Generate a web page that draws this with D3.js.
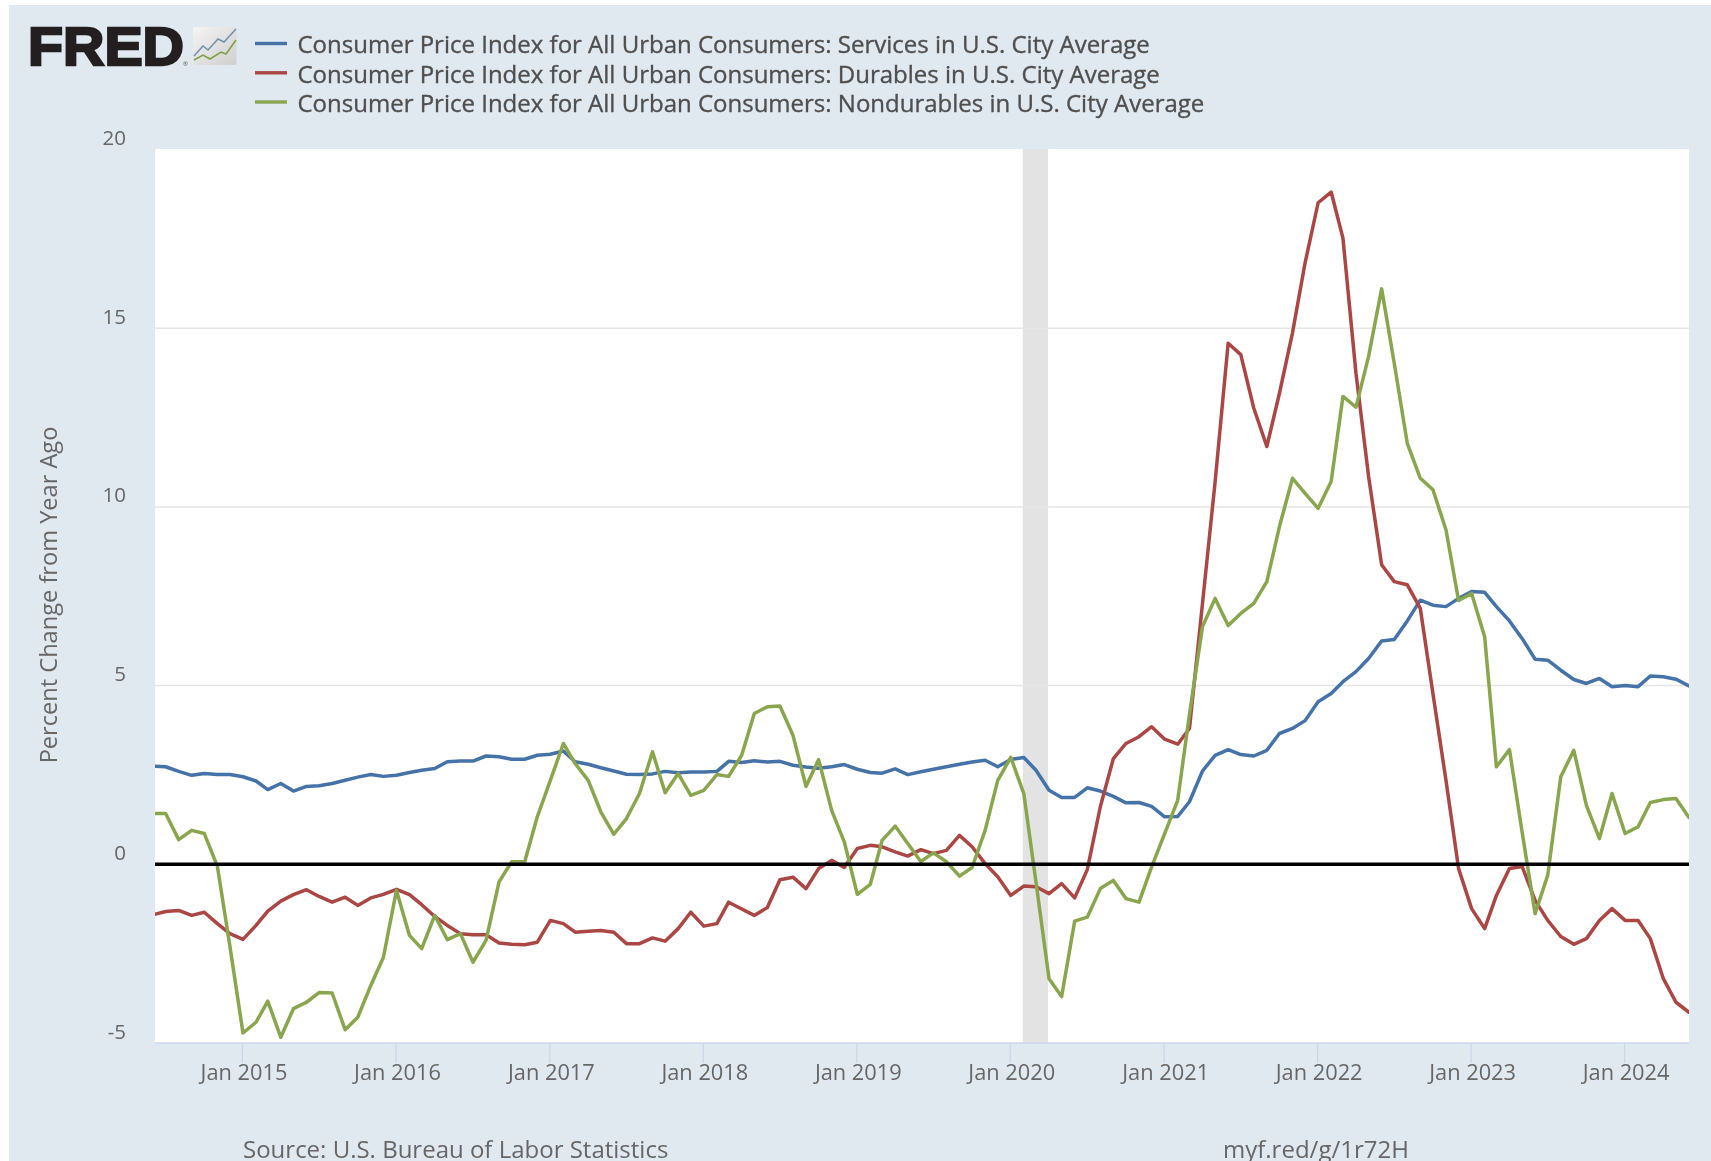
<!DOCTYPE html>
<html>
<head>
<meta charset="utf-8">
<script src="https://cdn.jsdelivr.net/npm/d3@7"></script>
<style>
html,body{margin:0;padding:0;background:#fff;overflow:hidden}
svg{display:block;filter:blur(0.55px)}
text{font-family:"Open Sans",sans-serif}
</style>
</head>
<body>
<svg id="chart" width="1711" height="1161"></svg>
<script>
// Monthly observations, Jun 2014 to Jun 2024
const firstMonth = "2014-06-01";
const lastMonth = "2024-06-01";
const seriesNames = [
  "Consumer Price Index for All Urban Consumers: Services in U.S. City Average",
  "Consumer Price Index for All Urban Consumers: Durables in U.S. City Average",
  "Consumer Price Index for All Urban Consumers: Nondurables in U.S. City Average"
];
const services = [
  2.75,2.73,2.60,2.49,2.54,2.51,2.51,2.45,2.33,2.09,2.26,2.05,2.18,2.20,2.26,2.35,2.44,2.51,2.46,2.49,
  2.57,2.63,2.68,2.87,2.89,2.89,3.03,3.01,2.94,2.94,3.05,3.08,3.17,2.87,2.80,2.70,2.61,2.52,2.51,2.53,
  2.60,2.56,2.58,2.58,2.60,2.88,2.85,2.90,2.86,2.88,2.77,2.72,2.69,2.73,2.79,2.66,2.57,2.55,2.67,2.51,
  2.59,2.66,2.73,2.80,2.86,2.91,2.73,2.93,2.99,2.63,2.07,1.87,1.87,2.14,2.05,1.90,1.72,1.73,1.62,1.33,
  1.34,1.75,2.61,3.05,3.21,3.07,3.03,3.19,3.66,3.80,4.02,4.55,4.78,5.11,5.39,5.76,6.25,6.29,6.81,7.39,
  7.25,7.21,7.44,7.63,7.61,7.21,6.81,6.32,5.74,5.71,5.43,5.17,5.06,5.20,4.97,5.00,4.97,5.27,5.25,5.18,
  4.99
];
const durables = [
  -1.41,-1.32,-1.29,-1.43,-1.34,-1.66,-1.94,-2.10,-1.71,-1.31,-1.03,-0.85,-0.71,-0.90,-1.06,-0.92,-1.15,-0.94,-0.84,-0.70,
  -0.85,-1.13,-1.46,-1.71,-1.94,-1.97,-1.97,-2.20,-2.24,-2.25,-2.18,-1.57,-1.66,-1.90,-1.87,-1.85,-1.90,-2.22,-2.22,-2.06,
  -2.15,-1.80,-1.34,-1.73,-1.66,-1.06,-1.25,-1.43,-1.21,-0.43,-0.36,-0.68,-0.12,0.11,-0.09,0.44,0.53,0.49,0.35,0.23,
  0.41,0.30,0.39,0.81,0.49,0.02,-0.35,-0.87,-0.61,-0.63,-0.82,-0.54,-0.94,-0.15,1.61,2.96,3.38,3.57,3.85,3.50,
  3.36,3.80,7.30,10.70,14.58,14.26,12.76,11.69,13.18,14.87,16.83,18.51,18.81,17.52,13.74,10.85,8.38,7.91,7.82,7.16,
  4.78,2.35,-0.12,-1.24,-1.80,-0.87,-0.12,-0.06,-1.01,-1.57,-2.02,-2.24,-2.08,-1.57,-1.24,-1.57,-1.57,-2.08,-3.20,-3.86,
  -4.14
];
const nondurables = [
  1.42,1.42,0.69,0.95,0.86,-0.05,-2.30,-4.72,-4.42,-3.83,-4.84,-4.04,-3.86,-3.59,-3.60,-4.63,-4.28,-3.39,-2.60,-0.73,
  -1.99,-2.36,-1.43,-2.11,-1.94,-2.74,-2.13,-0.49,0.07,0.07,1.33,2.35,3.38,2.82,2.35,1.47,0.84,1.28,1.98,3.15,
  2.00,2.54,1.93,2.07,2.51,2.46,3.05,4.22,4.41,4.43,3.61,2.18,2.93,1.51,0.63,-0.84,-0.56,0.67,1.07,0.58,
  0.08,0.32,0.07,-0.33,-0.09,0.95,2.35,2.99,1.98,-0.50,-3.20,-3.70,-1.59,-1.48,-0.68,-0.45,-0.96,-1.06,-0.07,0.86,
  1.79,4.20,6.65,7.44,6.68,7.02,7.30,7.91,9.45,10.80,10.38,9.96,10.71,13.09,12.79,14.21,16.10,14.02,11.78,10.80,
  10.48,9.36,7.38,7.58,6.37,2.73,3.21,0.91,-1.38,-0.31,2.45,3.19,1.65,0.72,1.98,0.86,1.05,1.73,1.81,1.84,
  1.31
];
const seriesColors = ["#4572a7","#aa4643","#89a54e"];
const yTicks = [-5,0,5,10,15,20];
const xTickYears = [2015,2016,2017,2018,2019,2020,2021,2022,2023,2024];
const recession = ["2020-02-01","2020-04-01"];
const yTitle = "Percent Change from Year Ago";
const sourceText = "Source: U.S. Bureau of Labor Statistics";
const linkText = "myf.red/g/1r72H";

const months = d3.utcMonth.range(new Date(firstMonth), d3.utcMonth.offset(new Date(lastMonth), 1));
const svg = d3.select("#chart");

// Page panel
svg.append("rect").attr("x",9).attr("y",5).attr("width",1702).attr("height",1156).attr("fill","#e1e9f0");

const plot = {left:155, right:1689, top:149, bottom:1043};
const x = d3.scaleUtc().domain([new Date(firstMonth), new Date(lastMonth)]).range([153, 1689]);
const y = d3.scaleLinear().domain([-5,20]).range([plot.bottom, 149.5]);

svg.append("rect").attr("x",plot.left).attr("y",plot.top)
  .attr("width",plot.right-plot.left).attr("height",plot.bottom-plot.top).attr("fill","#fff");

svg.append("defs").append("clipPath").attr("id","plotClip").append("rect")
  .attr("x",plot.left).attr("y",plot.top)
  .attr("width",plot.right-plot.left).attr("height",plot.bottom-plot.top);

// Recession band
svg.append("rect")
  .attr("x",x(new Date(recession[0]))-1).attr("y",plot.top)
  .attr("width",x(new Date(recession[1]))-x(new Date(recession[0])))
  .attr("height",plot.bottom-plot.top).attr("fill","#e3e3e3");

// Grid
svg.append("g").selectAll("line").data(yTicks.filter(d=>d>0&&d<20)).join("line")
  .attr("x1",plot.left).attr("x2",plot.right)
  .attr("y1",d=>y(d)).attr("y2",d=>y(d))
  .attr("stroke","#e6e6e6").attr("stroke-width",1.5);

// Y axis labels
const yAxis = d3.axisLeft(y).tickValues(yTicks).tickSize(0).tickPadding(0).tickFormat(d=>String(d));
const yG = svg.append("g").attr("transform","translate(126,0)").call(yAxis);
yG.select(".domain").remove();
yG.selectAll("text").attr("dy",-5).attr("fill","#666").attr("font-size",20.5)
  .style("font-family",'"Open Sans",sans-serif');

svg.append("text")
  .attr("transform","translate(57,"+595+") rotate(-90)")
  .attr("text-anchor","middle").attr("fill","#666").attr("font-size",23.6)
  .text(yTitle);

// X axis
const xAxis = d3.axisBottom(x)
  .tickValues(xTickYears.map(yr=>new Date(Date.UTC(yr,0,1))))
  .tickSize(20).tickPadding(2).tickFormat(d3.utcFormat("%b %Y"));
const xG = svg.append("g").attr("transform","translate(-1,"+plot.bottom+")").call(xAxis);
xG.select(".domain").remove();
xG.selectAll("line").attr("stroke","#ccd6eb").attr("stroke-width",1.3);
xG.selectAll("text").attr("fill","#666").attr("font-size",21.8).attr("dx",1.5)
  .style("font-family",'"Open Sans",sans-serif');
svg.append("line").attr("x1",plot.left).attr("x2",plot.right)
  .attr("y1",plot.bottom).attr("y2",plot.bottom)
  .attr("stroke","#ccd6eb").attr("stroke-width",1.5);

// Series
const line = d3.line().x((d,i)=>x(months[i])).y(d=>y(d));
const seriesG = svg.append("g").attr("clip-path","url(#plotClip)");
[services,durables,nondurables].forEach((vals,k)=>{
  seriesG.append("path").datum(vals).attr("d",line)
    .attr("fill","none").attr("stroke",seriesColors[k])
    .attr("stroke-width",3.5).attr("stroke-linejoin","round").attr("stroke-linecap","round");
});

// Zero line
svg.append("line").attr("x1",plot.left).attr("x2",plot.right)
  .attr("y1",y(0)).attr("y2",y(0)).attr("stroke","#000").attr("stroke-width",3.4);

// Legend
const legendY = [43.5,72.8,102];
const lg = svg.append("g");
seriesNames.forEach((name,k)=>{
  lg.append("line").attr("x1",255).attr("x2",287).attr("y1",legendY[k]).attr("y2",legendY[k])
    .attr("stroke",seriesColors[k]).attr("stroke-width",3.4);
  lg.append("text").attr("x",297.5).attr("y",legendY[k]+9.8).attr("fill","#4f4f4f")
    .attr("stroke","#4f4f4f").attr("stroke-width",0.35)
    .attr("font-size",24).text(name);
});

// Footer
svg.append("text").attr("x",243).attr("y",1158).attr("fill","#666").attr("font-size",24).text(sourceText);
svg.append("text").attr("x",1223).attr("y",1158).attr("fill","#666").attr("font-size",24).text(linkText);

// FRED logo
const logo = svg.append("g");
logo.append("text").attr("x",28).attr("y",65)
  .style("font-family",'"Liberation Sans",Arial,sans-serif')
  .attr("font-weight",700).attr("font-size",54.5).attr("fill","#231f20")
  .attr("stroke","#231f20").attr("stroke-width",2.4)
  .attr("textLength",156).attr("lengthAdjust","spacingAndGlyphs").text("FRED");
logo.append("text").attr("x",183).attr("y",66).attr("font-size",6).attr("fill","#555").text("®");
const grad = svg.select("defs").append("linearGradient").attr("id","iconGrad")
  .attr("x1",0).attr("y1",0).attr("x2",1).attr("y2",1);
grad.append("stop").attr("offset","0%").attr("stop-color","#f4f4f4");
grad.append("stop").attr("offset","100%").attr("stop-color","#cfcfcf");
logo.append("rect").attr("x",193).attr("y",27).attr("width",43.5).attr("height",38).attr("rx",2).attr("fill","url(#iconGrad)");
logo.append("path").attr("d","M194,56 L203,46 L208,50 L218,39 L224,42 L236,29").attr("fill","none").attr("stroke","#6f93ab").attr("stroke-width",1.5);
logo.append("path").attr("d","M194,60 L203,55 L210,59 L221,52 L226,54 L236,40").attr("fill","none").attr("stroke","#7fa044").attr("stroke-width",1.5);
</script>
</body>
</html>
